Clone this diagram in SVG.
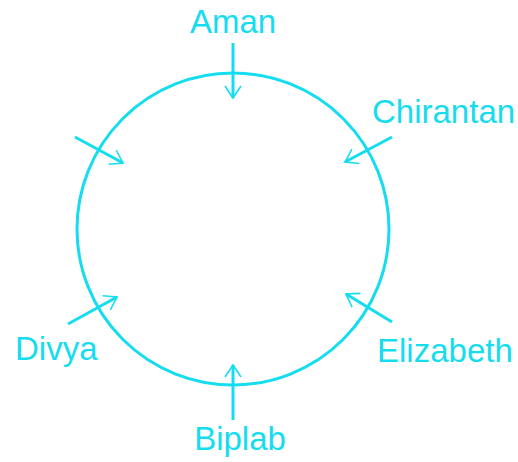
<svg xmlns="http://www.w3.org/2000/svg" width="518" height="462" viewBox="0 0 518 462">
<style>
.lbl{font-family:"Liberation Sans",Arial,sans-serif;font-size:33px;fill:#16dcf0}
.arr{stroke:#16dcf0;stroke-width:3;fill:none;marker-end:url(#ah)}
</style>
<defs>
<marker id="ah" markerUnits="userSpaceOnUse" markerWidth="24" markerHeight="24" refX="16" refY="12" orient="auto">
<path d="M4,4 L16,12 L4,20" fill="none" stroke="#16dcf0" stroke-width="1.6"/>
</marker>
</defs>
<rect width="518" height="462" fill="#ffffff"/>
<g id="table">
<circle cx="233" cy="229" r="156" fill="none" stroke="#16dcf0" stroke-width="3"/>
</g>
<g id="connectors">
<line class="arr" x1="233" y1="43" x2="233" y2="98"/>
<line class="arr" x1="392" y1="137" x2="345" y2="162"/>
<line class="arr" x1="75" y1="137" x2="123" y2="163"/>
<line class="arr" x1="68" y1="324" x2="117" y2="297"/>
<line class="arr" x1="392" y1="322" x2="346" y2="294"/>
<line class="arr" x1="233" y1="420" x2="233" y2="365"/>
</g>
<g id="aman"><text class="lbl" x="233" y="33" text-anchor="middle">Aman</text></g>
<g id="chirantan"><text class="lbl" x="372" y="123">Chirantan</text></g>
<g id="divya"><text class="lbl" x="15" y="360">Divya</text></g>
<g id="elizabeth"><text class="lbl" x="377" y="362">Elizabeth</text></g>
<g id="biplab"><text class="lbl" x="240" y="450" text-anchor="middle">Biplab</text></g>
</svg>
